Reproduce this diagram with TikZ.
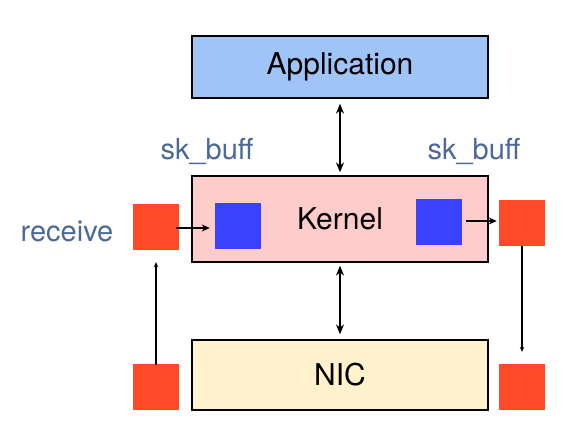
\documentclass[tikz,border=0pt]{standalone}
\usepackage{fontspec}
\setmainfont{TeX Gyre Heros}
\usetikzlibrary{arrows.meta, positioning}
\definecolor{bleuApp}{RGB}{160, 196, 248}
\definecolor{roseKernel}{RGB}{255, 204, 204}
\definecolor{jauneNic}{RGB}{255, 242, 204}
\definecolor{bleuBuf}{RGB}{58, 66, 255}
\definecolor{rougePkt}{RGB}{255, 74, 42}
\definecolor{bleuTexte}{RGB}{76, 104, 150}

\begin{document}
\begin{tikzpicture}[x=1pt, y=-1pt,
  layer/.style={rectangle, draw=black, line width=1.3pt,
    minimum width=296pt, font=\fontsize{30}{34}\selectfont},
  buf/.style={rectangle, fill=bleuBuf, minimum size=46pt, inner sep=0pt},
  pkt/.style={rectangle, fill=rougePkt, minimum size=46pt, inner sep=0pt},
  lbl/.style={font=\fontsize{29}{33}\selectfont, text=bleuTexte},
  arr/.style={-{Stealth[length=8pt, width=7pt]}, line width=1.1pt},
  darr/.style={{Stealth[length=10pt, width=8pt]}-{Stealth[length=10pt, width=8pt]}, line width=1.1pt},
  parr/.style={-{Stealth[length=5pt, width=4.5pt]}, line width=1.2pt},
]
\useasboundingbox (0,0) rectangle (570,445);
% couches
\node[layer, fill=bleuApp, minimum height=62pt]    (app) at (340, 67)  {Application};
\node[layer, fill=roseKernel, minimum height=86pt] (krn) at (340, 219) {Kernel};
\node[layer, fill=jauneNic, minimum height=70pt]   (nic) at (340, 375) {NIC};
\draw[darr] ([yshift=-5pt]app.south) -- ([yshift=3pt]krn.north);
\draw[darr] ([yshift=-3pt]krn.south) -- ([yshift=5pt]nic.north);
% tampons
\node[buf] (bufG) at (238, 226) {};
\node[buf] (bufD) at (439, 222) {};
\node[pkt] (rxH) at (156, 227) {};
\node[pkt] (txH) at (522, 223) {};
\node[pkt] (rxB) at (156, 387) {};
\node[pkt] (txB) at (522, 387) {};
\draw[arr] ([xshift=-3pt]rxH.east |- 0,228) -- ([xshift=-5pt]bufG.west |- 0,228);
\draw[arr] ([xshift=4pt]bufD.east |- 0,221) -- ([xshift=-2pt]txH.west |- 0,221);
\draw[parr] ([yshift=-1pt]rxB.north) -- ([yshift=-12pt]rxH.south);
\draw[parr] (txH.south) -- ([yshift=12pt]txB.north);
% etiquettes
\node[lbl] (skG) at (207, 151) {sk\_buff};
\node[lbl] (skD) at (474, 151) {sk\_buff};
\node[lbl] (rcv) at (67, 231) {receive};
\end{tikzpicture}
\end{document}
